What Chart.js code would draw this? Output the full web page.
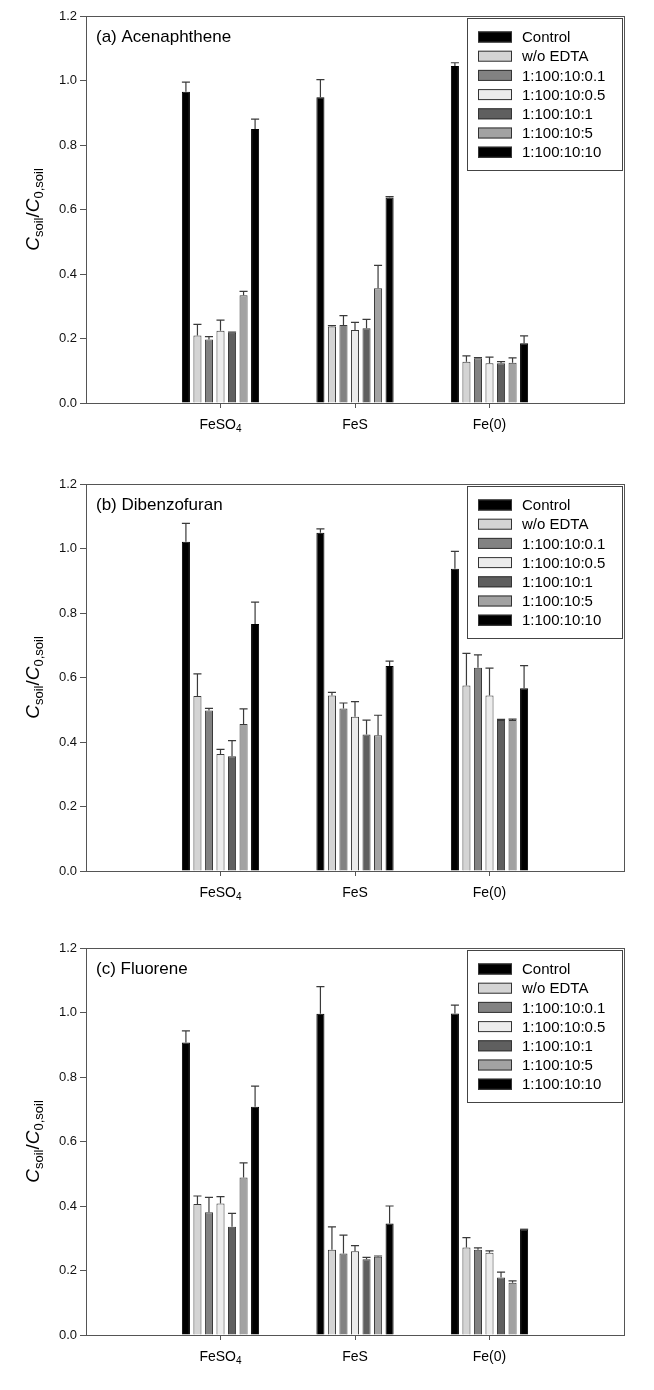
<!DOCTYPE html>
<html>
<head>
<meta charset="utf-8">
<script src="https://cdn.jsdelivr.net/npm/chart.js@4.4.1/dist/chart.umd.min.js"></script>
<style>
  body { margin: 0; background: #fff; }
  .panel { position: absolute; left: 0; width: 654px; height: 464px; }
</style>
</head>
<body>
<div class="panel" style="top:0px"><canvas id="chartA" width="654" height="464"></canvas></div>
<div class="panel" style="top:468px"><canvas id="chartB" width="654" height="464"></canvas></div>
<div class="panel" style="top:932px"><canvas id="chartC" width="654" height="464"></canvas></div>
<script>
// categories on the x axis
const categories = ['FeSO4', 'FeS', 'Fe(0)'];
const seriesNames = ['Control', 'w/o EDTA', '1:100:10:0.1', '1:100:10:0.5', '1:100:10:1', '1:100:10:5', '1:100:10:10'];
const seriesColors = ['#000000', '#d4d4d4', '#828282', '#ececec', '#5f5f5f', '#a2a2a2', '#000000'];

// (a) Acenaphthene - one row per series, columns FeSO4 / FeS / Fe(0)
const aceMean = [
  [0.965, 0.948, 1.045],
  [0.209, 0.237, 0.128],
  [0.197, 0.242, 0.139],
  [0.224, 0.226, 0.123],
  [0.218, 0.232, 0.123],
  [0.334, 0.356, 0.125],
  [0.850, 0.637, 0.185]
];
const aceErr = [
  [0.030, 0.055, 0.010],
  [0.035, 0.003, 0.018],
  [0.009, 0.029, 0.002],
  [0.033, 0.024, 0.019],
  [0.002, 0.027, 0.005],
  [0.012, 0.071, 0.015],
  [0.030, 0.003, 0.023]
];

// (b) Dibenzofuran
const dibMean = [
  [1.021, 1.049, 0.937],
  [0.543, 0.544, 0.575],
  [0.498, 0.504, 0.630],
  [0.363, 0.478, 0.544],
  [0.356, 0.423, 0.468],
  [0.456, 0.421, 0.468],
  [0.766, 0.636, 0.567]
];
const dibErr = [
  [0.057, 0.012, 0.054],
  [0.068, 0.010, 0.100],
  [0.006, 0.017, 0.040],
  [0.014, 0.047, 0.085],
  [0.048, 0.045, 0.002],
  [0.047, 0.062, 0.003],
  [0.068, 0.015, 0.070]
];

// (c) Fluorene
const fluMean = [
  [0.907, 0.996, 0.997],
  [0.406, 0.264, 0.271],
  [0.381, 0.253, 0.264],
  [0.408, 0.260, 0.255],
  [0.336, 0.235, 0.178],
  [0.488, 0.243, 0.162],
  [0.708, 0.346, 0.328]
];
const fluErr = [
  [0.036, 0.084, 0.026],
  [0.025, 0.071, 0.031],
  [0.046, 0.057, 0.006],
  [0.021, 0.017, 0.006],
  [0.041, 0.006, 0.017],
  [0.046, 0.002, 0.006],
  [0.064, 0.054, 0.000]
];

const FONT = '"Liberation Sans", Arial, sans-serif';
const AXIS_COLOR = '#555';

// error bars, frame, legend, titles and x labels
const panelDecor = {
  id: 'panelDecor',
  afterDatasetsDraw(chart, args, opts) {
    const { ctx, chartArea: a, scales: { x, y } } = chart;
    ctx.save();

    // error bars (upper only)
    chart.data.datasets.forEach((ds, di) => {
      const meta = chart.getDatasetMeta(di);
      meta.data.forEach((bar, i) => {
        const v = ds.data[i];
        const e = ds.errors[i];
        if (v == null || e == null) return;
        const top = y.getPixelForValue(v + e);
        const half = bar.width / 2;
        ctx.strokeStyle = '#3a3a3a';
        ctx.lineWidth = 1.2;
        ctx.beginPath();
        ctx.moveTo(bar.x, bar.y);
        ctx.lineTo(bar.x, top);
        ctx.moveTo(bar.x - half, top);
        ctx.lineTo(bar.x + half, top);
        ctx.stroke();
      });
    });

    // frame round the plot
    ctx.strokeStyle = AXIS_COLOR;
    ctx.lineWidth = 1;
    ctx.strokeRect(Math.round(a.left) + 0.5, Math.round(a.top) + 0.5, Math.round(a.width), Math.round(a.height));

    // panel title
    ctx.fillStyle = '#000';
    ctx.font = '17px ' + FONT;
    ctx.textAlign = 'left';
    ctx.textBaseline = 'alphabetic';
    ctx.fillText(opts.title, a.left + 10, a.top + 26);

    // legend
    const lx = 467, ly = a.top + 2, lw = 155, lh = 152;
    ctx.fillStyle = '#fff';
    ctx.fillRect(lx, ly, lw, lh);
    ctx.strokeStyle = '#444';
    ctx.strokeRect(lx + 0.5, ly + 0.5, lw, lh);
    ctx.font = '15px ' + FONT;
    ctx.textBaseline = 'middle';
    chart.data.datasets.forEach((ds, di) => {
      const cy = ly + 19 + di * 19.2;
      ctx.fillStyle = ds.backgroundColor;
      ctx.fillRect(lx + 11, cy - 5.5, 34, 11);
      ctx.strokeStyle = '#333';
      ctx.strokeRect(lx + 11.5, cy - 5, 33, 10);
      ctx.fillStyle = '#000';
      ctx.fillText(ds.label, lx + 55, cy + 1);
    });

    // x labels with subscripts
    ctx.textBaseline = 'alphabetic';
    chart.data.labels.forEach((lab, i) => {
      if (!lab) return;
      const px = x.getPixelForValue(i);
      const m = lab.match(/^(.*?)(\d)$/);
      const main = m ? m[1] : lab;
      const sub = m ? m[2] : '';
      ctx.font = '14px ' + FONT;
      const wMain = ctx.measureText(main).width;
      ctx.font = '10px ' + FONT;
      const wSub = ctx.measureText(sub).width;
      const start = px - (wMain + wSub) / 2;
      const base = a.bottom + 26;
      ctx.fillStyle = '#000';
      ctx.font = '14px ' + FONT;
      ctx.textAlign = 'left';
      ctx.fillText(main, start, base);
      if (sub) {
        ctx.font = '10px ' + FONT;
        ctx.fillText(sub, start + wMain, base + 3);
      }
    });

    // y axis title  C_soil / C_0,soil
    const parts = [
      { t: 'C', f: 'italic 19px ' + FONT, dy: 0 },
      { t: 'soil', f: '13px ' + FONT, dy: 4 },
      { t: '/', f: '19px ' + FONT, dy: 0 },
      { t: 'C', f: 'italic 19px ' + FONT, dy: 0 },
      { t: '0,soil', f: '13px ' + FONT, dy: 4 }
    ];
    let total = 0;
    parts.forEach(p => { ctx.font = p.f; p.w = ctx.measureText(p.t).width; total += p.w; });
    ctx.translate(39, (a.top + a.bottom) / 2);
    ctx.rotate(-Math.PI / 2);
    let cx = -total / 2;
    ctx.textAlign = 'left';
    parts.forEach(p => {
      ctx.font = p.f;
      ctx.fillText(p.t, cx, p.dy);
      cx += p.w;
    });
    ctx.restore();
  }
};

function makePanel(id, title, means, errs) {
  const labels = ['', ...categories, ''];
  const datasets = seriesNames.map((name, s) => ({
    label: name,
    data: [null, ...means[s], null],
    errors: [null, ...errs[s], null],
    backgroundColor: seriesColors[s],
    borderColor: seriesColors[s] === '#000000' ? '#000000' : '#3a3a3a',
    borderWidth: 1,
    categoryPercentage: 0.6,
    barPercentage: 0.7
  }));

  new Chart(document.getElementById(id), {
    type: 'bar',
    data: { labels, datasets },
    options: {
      responsive: false,
      animation: false,
      layout: { padding: { top: 16, right: 30, left: 0, bottom: 0 } },
      plugins: {
        legend: { display: false },
        tooltip: { enabled: false },
        panelDecor: { title }
      },
      scales: {
        x: {
          offset: false,
          grid: {
            offset: false,
            drawOnChartArea: false,
            drawTicks: true,
            tickLength: 5,
            color: ctx => (ctx.index === 0 || ctx.index === labels.length - 1) ? 'rgba(0,0,0,0)' : AXIS_COLOR
          },
          border: { display: true, color: AXIS_COLOR },
          ticks: { display: false },
          afterFit: scale => { scale.height = 61; }
        },
        y: {
          min: 0,
          max: 1.2,
          grid: { drawOnChartArea: false, drawTicks: true, tickLength: 6, color: AXIS_COLOR },
          border: { display: true, color: AXIS_COLOR },
          ticks: {
            stepSize: 0.2,
            padding: 3,
            color: '#111',
            font: { family: FONT, size: 13 },
            callback: v => v.toFixed(1)
          },
          afterFit: scale => { scale.width = 86; }
        }
      }
    },
    plugins: [panelDecor]
  });
}

makePanel('chartA', '(a) Acenaphthene', aceMean, aceErr);
makePanel('chartB', '(b) Dibenzofuran', dibMean, dibErr);
makePanel('chartC', '(c) Fluorene', fluMean, fluErr);
</script>
</body>
</html>
